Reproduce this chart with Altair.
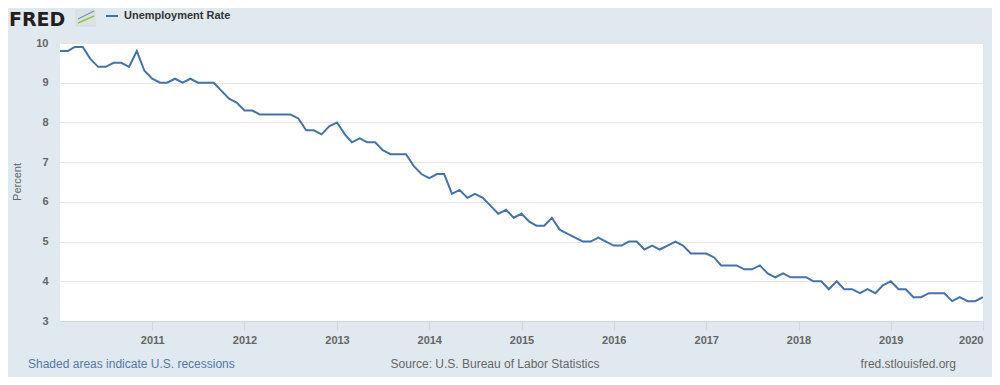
import altair as alt
import pandas as pd

# Monthly US unemployment rate, Jan 2010 - Jan 2020 (percent)
rate_2010 = [9.8, 9.8, 9.9, 9.9, 9.6, 9.4, 9.4, 9.5, 9.5, 9.4, 9.8, 9.3]
rate_2011 = [9.1, 9.0, 9.0, 9.1, 9.0, 9.1, 9.0, 9.0, 9.0, 8.8, 8.6, 8.5]
rate_2012 = [8.3, 8.3, 8.2, 8.2, 8.2, 8.2, 8.2, 8.1, 7.8, 7.8, 7.7, 7.9]
rate_2013 = [8.0, 7.7, 7.5, 7.6, 7.5, 7.5, 7.3, 7.2, 7.2, 7.2, 6.9, 6.7]
rate_2014 = [6.6, 6.7, 6.7, 6.2, 6.3, 6.1, 6.2, 6.1, 5.9, 5.7, 5.8, 5.6]
rate_2015 = [5.7, 5.5, 5.4, 5.4, 5.6, 5.3, 5.2, 5.1, 5.0, 5.0, 5.1, 5.0]
rate_2016 = [4.9, 4.9, 5.0, 5.0, 4.8, 4.9, 4.8, 4.9, 5.0, 4.9, 4.7, 4.7]
rate_2017 = [4.7, 4.6, 4.4, 4.4, 4.4, 4.3, 4.3, 4.4, 4.2, 4.1, 4.2, 4.1]
rate_2018 = [4.1, 4.1, 4.0, 4.0, 3.8, 4.0, 3.8, 3.8, 3.7, 3.8, 3.7, 3.9]
rate_2019 = [4.0, 3.8, 3.8, 3.6, 3.6, 3.7, 3.7, 3.7, 3.5, 3.6, 3.5, 3.5]
rate_2020 = [3.6]

values = (rate_2010 + rate_2011 + rate_2012 + rate_2013 + rate_2014 + rate_2015
          + rate_2016 + rate_2017 + rate_2018 + rate_2019 + rate_2020)
dates = pd.date_range("2010-01-01", periods=len(values), freq="MS")

year_ticks = [2011, 2012, 2013, 2014, 2015, 2016, 2017, 2018, 2019, 2020]
y_ticks = [3, 4, 5, 6, 7, 8, 9, 10]

series_title = "Unemployment Rate"
y_title = "Percent"
note_left = "Shaded areas indicate U.S. recessions"
note_mid = "Source: U.S. Bureau of Labor Statistics"
note_right = "fred.stlouisfed.org"
logo_text = "FRED"
FONT = "Liberation Sans"
BLUE = "#4572a7"

df = pd.DataFrame({"date": [d.strftime("%Y-%m-%d") for d in dates], "rate": values})

W, H = 923, 278

x_enc = alt.X(
    "date:T",
    scale=alt.Scale(type="utc",
                    domain=[alt.DateTime(year=2010, month=1, date=1, utc=True),
                            alt.DateTime(year=2020, month=1, date=1, utc=True)]),
    axis=alt.Axis(values=[alt.DateTime(year=y, month=1, date=1, utc=True) for y in year_ticks],
                  format="%Y", formatType="utc", title=None, grid=False,
                  domainColor="#ccd6eb", tickColor="#ccd6eb", tickSize=9,
                  labelColor="#666666", labelFontSize=11, labelFont=FONT,
                  labelPadding=4, labelFontWeight="bold", labelFlush=True),
)
y_enc = alt.Y(
    "rate:Q",
    scale=alt.Scale(domain=[3, 10], nice=False, zero=False),
    axis=alt.Axis(values=y_ticks, title=None, domain=False, ticks=False,
                  gridColor="#e6e6e6", labelColor="#666666", labelFontSize=11,
                  labelFont=FONT, labelPadding=12, labelFontWeight="bold"),
)

line = alt.Chart(df).mark_line(color=BLUE, strokeWidth=2, clip=True).encode(x=x_enc, y=y_enc)

one = pd.DataFrame({"k": [0]})


def txt(text, x, y, size=12, color="#666666", weight="normal", align="left",
        angle=0, baseline="middle", font=FONT):
    kw = dict(fontSize=size, color=color, fontWeight=weight, align=align,
              baseline=baseline, font=font)
    if angle:
        kw["angle"] = angle
    return alt.Chart(one).mark_text(**kw).encode(
        x=alt.value(x), y=alt.value(y), text=alt.value(text))


# offsets: plot origin at page (60, 43)
logo = txt(logo_text, -51, -17, size=19, color="#231f20", weight="bold",
           baseline="alphabetic", font="DejaVu Sans")
icon = alt.Chart(one).mark_rect(fill="#dde2e5", stroke="#c9cfd4", strokeWidth=0.5).encode(
    x=alt.value(16), x2=alt.value(35), y=alt.value(-33), y2=alt.value(-17))
icon_b = alt.Chart(one).mark_rule(color="#6a8fc7", strokeWidth=1.2).encode(
    x=alt.value(18), x2=alt.value(34), y=alt.value(-24), y2=alt.value(-32))
icon_g = alt.Chart(one).mark_rule(color="#8dc63f", strokeWidth=1.4).encode(
    x=alt.value(18), x2=alt.value(34), y=alt.value(-20), y2=alt.value(-27))
swatch = alt.Chart(one).mark_rule(color=BLUE, strokeWidth=2).encode(
    x=alt.value(46), x2=alt.value(58), y=alt.value(-27), y2=alt.value(-27))
legend_t = txt(series_title, 64, -27, size=11, color="#333333", weight="bold")
ytitle = txt(y_title, -42, 139, size=11, color="#666666", align="center", angle=270)
foot_l = txt(note_left, -32, 321, size=12, color="#5577aa")
foot_m = txt(note_mid, 435, 321, size=12, color="#666666", align="center")
foot_r = txt(note_right, 896, 321, size=12, color="#666666", align="right")

chart = alt.layer(
    line, logo, icon, icon_b, icon_g, swatch, legend_t, ytitle, foot_l, foot_m, foot_r
).properties(
    width=W, height=H,
    autosize=alt.AutoSizeParams(type="none"),
    padding={"left": 52, "top": 35, "right": 9, "bottom": 56},
).configure(
    background="#e1e9f0",
).configure_view(
    fill="white", stroke=None,
)

chart.save("out.html", embed_options={"renderer": "svg", "actions": False})
